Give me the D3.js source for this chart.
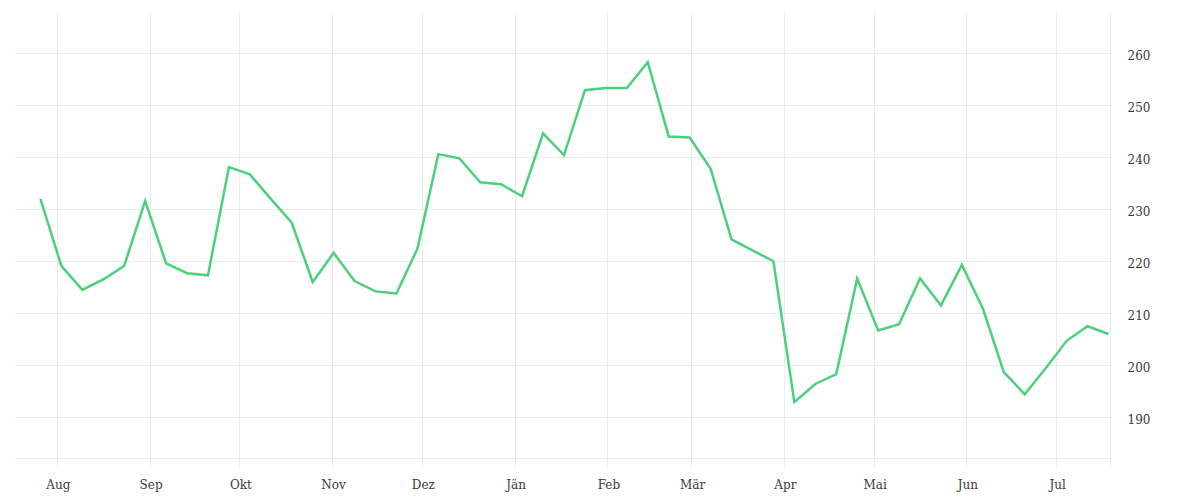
<!DOCTYPE html>
<html>
<head>
<meta charset="utf-8">
<script src="https://cdn.jsdelivr.net/npm/d3@7"></script>
<style>
  body { margin: 0; background: #fff; }
  svg { display: block; }
  .grid line { stroke: #ebebeb; stroke-width: 1; }
  .tick-label { font-family: "DejaVu Serif", serif; font-size: 12px; fill: #3a3a3a; }
</style>
</head>
<body>
<svg width="1200" height="500"></svg>
<script>
// Weekly values, first week starting 2022-07-26 (noon timestamps)
const firstWeek = "2022-07-26 12:00";
const values = [
  232.0, 219.1, 214.5, 216.5, 219.1, 231.6, 219.6, 217.7, 217.3, 238.1,
  236.7, 232.0, 227.4, 216.0, 221.6, 216.2, 214.2, 213.8, 222.4, 240.6,
  239.8, 235.2, 234.8, 232.5, 244.6, 240.4, 252.9, 253.3, 253.3, 258.3,
  244.0, 243.8, 237.8, 224.2, 222.1, 220.0, 192.9, 196.4, 198.3, 216.7,
  206.7, 207.9, 216.7, 211.5, 219.3, 210.9, 198.7, 194.4, 199.4, 204.7,
  207.5, 206.0
];
const monthLabels = ["Jän", "Feb", "Mär", "Apr", "Mai", "Jun", "Jul", "Aug", "Sep", "Okt", "Nov", "Dez"];
const yTicks = [190, 200, 210, 220, 230, 240, 250, 260];
const xDomain = ["2022-07-18 00:00", "2023-07-19 00:00"];
const yDomain = [182.1, 267.8];

const parseDate = d3.timeParse("%Y-%m-%d %H:%M");
const start = parseDate(firstWeek);
const data = values.map((v, i) => ({ date: d3.timeDay.offset(start, i * 7), value: v }));

const plot = { left: 15, right: 1110, top: 12.7, bottom: 458.3 };

const svg = d3.select("svg");

const x = d3.scaleTime()
    .domain(xDomain.map(parseDate))
    .range([plot.left, plot.right]);

const y = d3.scaleLinear()
    .domain(yDomain)
    .range([plot.bottom, plot.top]);

const months = d3.timeMonth.range(x.domain()[0], x.domain()[1]).filter(d => d > x.domain()[0]);

// Grid
const grid = svg.append("g").attr("class", "grid");

grid.selectAll(".hline")
    .data(yTicks.concat([yDomain[0]]))
  .enter().append("line")
    .attr("x1", plot.left)
    .attr("x2", plot.right)
    .attr("y1", d => Math.round(y(d)) + 0.5)
    .attr("y2", d => Math.round(y(d)) + 0.5);

grid.selectAll(".vline")
    .data(months.concat([x.domain()[1]]))
  .enter().append("line")
    .attr("x1", d => Math.round(x(d)) + 0.5)
    .attr("x2", d => Math.round(x(d)) + 0.5)
    .attr("y1", plot.top)
    .attr("y2", plot.bottom + 9.5);

// Y labels on the right
svg.append("g")
  .selectAll("text")
    .data(yTicks)
  .enter().append("text")
    .attr("class", "tick-label")
    .attr("x", 1127.5)
    .attr("y", d => y(d) + 6.5)
    .text(d => d);

// X labels
svg.append("g")
  .selectAll("text")
    .data(months)
  .enter().append("text")
    .attr("class", "tick-label")
    .attr("x", d => x(d) + 1.5)
    .attr("y", 489)
    .attr("text-anchor", "middle")
    .text(d => monthLabels[d.getMonth()]);

// Line
const line = d3.line()
    .x(d => x(d.date))
    .y(d => y(d.value));

svg.append("path")
    .datum(data)
    .attr("fill", "none")
    .attr("stroke", "#4dd07b")
    .attr("stroke-width", 2.5)
    .attr("d", line);
</script>
</body>
</html>
